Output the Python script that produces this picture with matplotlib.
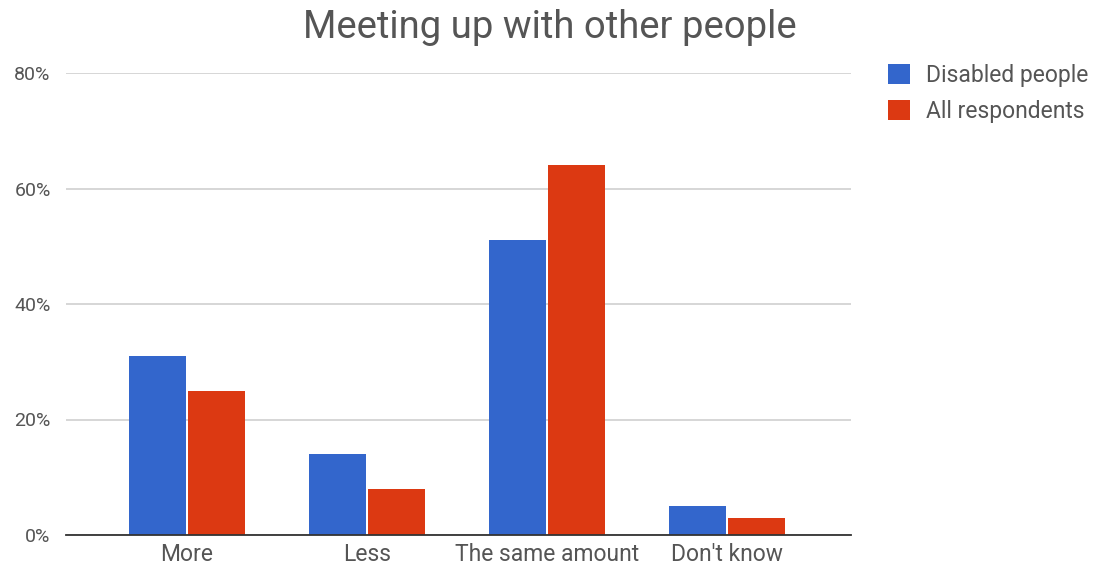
import matplotlib
matplotlib.use("Agg")
import matplotlib.pyplot as plt
import numpy as np
from matplotlib.ticker import PercentFormatter

categories = ["More", "Less", "The same amount", "Don't know"]
disabled = [31, 14, 51, 5]
all_resp = [25, 8, 64, 3]
series_names = ["Disabled people", "All respondents"]
yticks = [0, 20, 40, 60, 80]

plt.rcParams['font.family'] = ['Roboto', 'DejaVu Sans']

fig = plt.figure(figsize=(10.93, 5.70), dpi=100)
ax = fig.add_axes([66/1093, 1-535/570, (851-66)/1093, (535-73)/570])

x = np.arange(len(categories))
w = 0.318
gap = 0.006
ax.bar(x - w/2 - gap, disabled, w, color="#3366CC", label=series_names[0])
ax.bar(x + w/2 + gap, all_resp, w, color="#DC3912", label=series_names[1])

ax.set_xlim(-0.672, 3.689)
ax.set_ylim(0, 80)
ax.set_yticks(yticks)
ax.yaxis.set_major_formatter(PercentFormatter(decimals=0))
ax.grid(axis='y', color='#d0d0d0', linewidth=1.2)
ax.set_axisbelow(True)
for s in ['top', 'right', 'left']:
    ax.spines[s].set_visible(False)
ax.spines['bottom'].set_color('#333333')
ax.spines['bottom'].set_linewidth(1.3)
ax.spines['bottom'].set_zorder(5)
ax.tick_params(axis='both', length=0, labelcolor='#555555')
ax.tick_params(axis='y', labelsize=14, pad=11)
ax.tick_params(axis='x', labelsize=16.5, pad=6)
ax.set_xticks(x)
ax.set_xticklabels(categories)

fig.text(550/1093, 1-27/570, "Meeting up with other people", ha='center', va='center',
         fontsize=27.5, color='#555555')

leg = ax.legend(loc='upper left', bbox_to_anchor=(879/1093, 1-55/570), bbox_transform=fig.transFigure,
                frameon=False, fontsize=16.5, handlelength=0.95, handleheight=0.95,
                handletextpad=0.7, labelspacing=0.55, borderaxespad=0)
for t in leg.get_texts():
    t.set_color('#555555')

fig.savefig("out.png", dpi=100)
